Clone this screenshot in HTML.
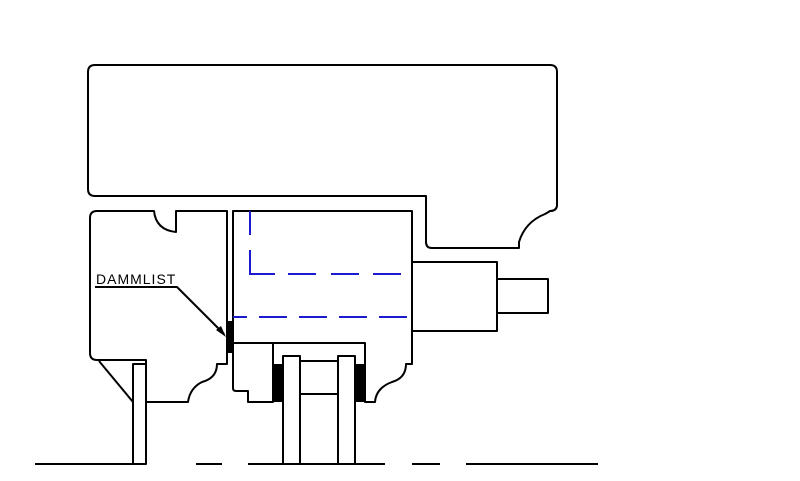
<!DOCTYPE html>
<html><head><style>body{margin:0;background:#fff}svg{display:block}</style></head><body>
<svg width="800" height="481" viewBox="0 0 800 481" xmlns="http://www.w3.org/2000/svg">
<g fill="none" stroke="#000" stroke-width="2" stroke-linejoin="round">
<path d="M95,65 H550 Q557,65 557,72 V206 Q556,211 550,211 Q547,213 545,214 Q525,222 519,242 V248 H432 Q426,248 426,242 V196 H95 Q88,196 88,189 V72 Q88,65 95,65 Z"/>
<path d="M97,211 H154 Q156,230 176,232 V211 H227 V364 H217 Q217,378 202,382 Q190,388 188,402 H146 V360 H97 Q90,360 90,353 V218 Q90,211 97,211 Z"/>
<line x1="99" y1="361" x2="133" y2="402"/>
<rect x="133" y="364" width="13" height="100" fill="#fff"/>
<path d="M233,343 V211 H412 V364 H406 Q406,378 392,382 Q376,388 375,402 H365 V343 Z"/>
<path d="M233,343 V388 Q233,391 236,391 H248 V402 H273 V343"/>
<rect x="412" y="262" width="85" height="69" fill="#fff"/>
<rect x="497" y="279" width="51" height="34" fill="#fff"/>
<rect x="283" y="356" width="17" height="108" fill="#fff"/>
<rect x="338" y="356" width="17" height="108" fill="#fff"/>
<line x1="300" y1="361" x2="338" y2="361"/>
<line x1="300" y1="394" x2="338" y2="394"/>
<path d="M35,464 H140 M196,464 H222 M248,464 H385 M412,464 H440 M466,464 H598"/>
<path d="M95,287 H177 L224,334"/>
</g>
<polygon points="226,337 216,330 221,326" fill="#000"/>
<rect x="227" y="321" width="6" height="32" fill="#000"/>
<rect x="273" y="364" width="10" height="38" fill="#000"/>
<rect x="355" y="364" width="10" height="38" fill="#000"/>
<g stroke="#1a1ad0" stroke-width="2" fill="none">
<path d="M250,211 V235 M250,250 V274 H275" />
<path d="M288,274 H318 M331,274 H360 M373,274 H412" stroke-dasharray="28,12"/>
<path d="M233,317 H412" stroke-dasharray="28,12" stroke-dashoffset="14"/>
</g>
<text x="96" y="284" font-family="Liberation Sans, sans-serif" font-size="14" letter-spacing="1">DAMMLIST</text>
</svg>
</body></html>
